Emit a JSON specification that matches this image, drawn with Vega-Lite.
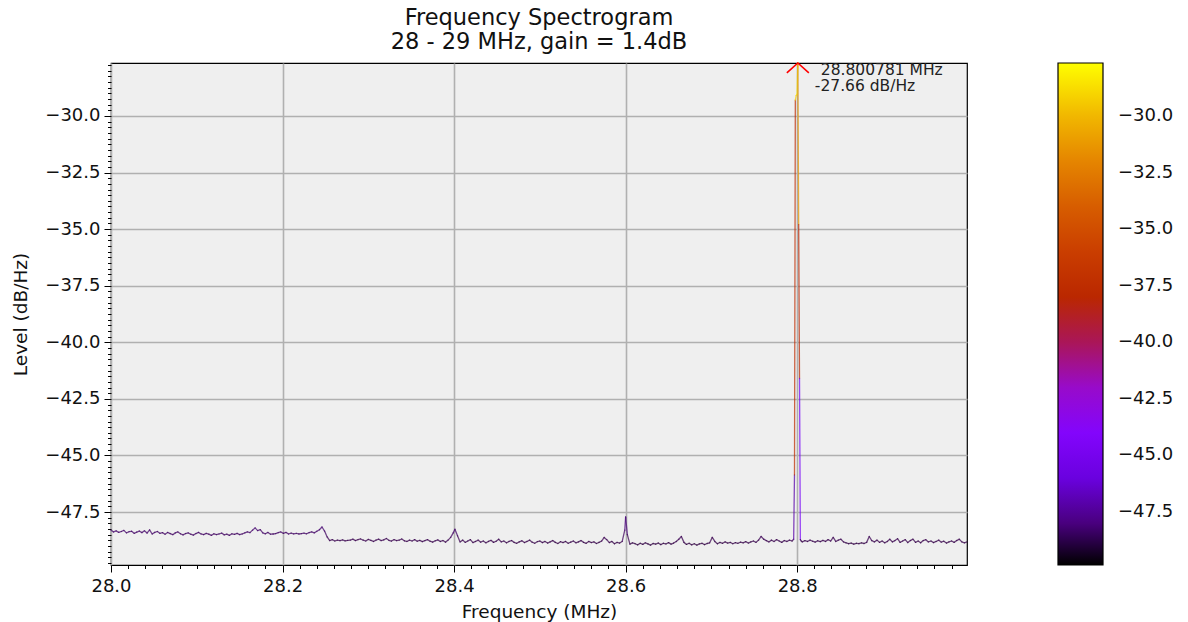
{
  "$schema": "https://vega.github.io/schema/vega-lite/v6.json",
  "width": 856,
  "height": 502,
  "autosize": {"type": "none"},
  "padding": {"left": 111, "top": 63, "right": 221, "bottom": 57},
  "background": "white",
  "config": {
    "font": "DejaVu Sans",
    "view": {"fill": "#efefef", "stroke": "black", "strokeWidth": 1.2},
    "axis": {"labelFont": "DejaVu Sans", "titleFont": "DejaVu Sans", "labelColor": "#111", "titleColor": "#111", "titleFontWeight": "normal"},
    "legend": {"labelFont": "DejaVu Sans"}
  },
  "title": {
    "text": ["Frequency Spectrogram", "28 - 29 MHz, gain = 1.4dB"],
    "fontSize": 22.5,
    "fontWeight": "normal",
    "font": "DejaVu Sans",
    "color": "#111",
    "lineHeight": 24,
    "anchor": "middle",
    "offset": 3
  },
  "data": {
    "values": [
      {"freq": 28.000, "level": -48.30}, {"freq": 28.003, "level": -48.38}, {"freq": 28.006, "level": -48.33}, {"freq": 28.009, "level": -48.40},
      {"freq": 28.012, "level": -48.36}, {"freq": 28.015, "level": -48.31}, {"freq": 28.018, "level": -48.42}, {"freq": 28.021, "level": -48.37},
      {"freq": 28.024, "level": -48.35}, {"freq": 28.027, "level": -48.44}, {"freq": 28.030, "level": -48.39}, {"freq": 28.033, "level": -48.34},
      {"freq": 28.036, "level": -48.41}, {"freq": 28.039, "level": -48.33}, {"freq": 28.042, "level": -48.43}, {"freq": 28.045, "level": -48.29},
      {"freq": 28.048, "level": -48.47}, {"freq": 28.051, "level": -48.40}, {"freq": 28.054, "level": -48.36}, {"freq": 28.057, "level": -48.44},
      {"freq": 28.060, "level": -48.41}, {"freq": 28.063, "level": -48.48}, {"freq": 28.066, "level": -48.40}, {"freq": 28.069, "level": -48.45},
      {"freq": 28.072, "level": -48.50}, {"freq": 28.075, "level": -48.42}, {"freq": 28.078, "level": -48.38}, {"freq": 28.081, "level": -48.46},
      {"freq": 28.084, "level": -48.51}, {"freq": 28.087, "level": -48.45}, {"freq": 28.090, "level": -48.42}, {"freq": 28.093, "level": -48.48},
      {"freq": 28.096, "level": -48.52}, {"freq": 28.099, "level": -48.45}, {"freq": 28.102, "level": -48.40}, {"freq": 28.105, "level": -48.47},
      {"freq": 28.108, "level": -48.50}, {"freq": 28.111, "level": -48.44}, {"freq": 28.114, "level": -48.48}, {"freq": 28.117, "level": -48.53},
      {"freq": 28.120, "level": -48.46}, {"freq": 28.123, "level": -48.50}, {"freq": 28.126, "level": -48.47}, {"freq": 28.129, "level": -48.43},
      {"freq": 28.132, "level": -48.51}, {"freq": 28.135, "level": -48.48}, {"freq": 28.138, "level": -48.53}, {"freq": 28.141, "level": -48.46},
      {"freq": 28.144, "level": -48.49}, {"freq": 28.147, "level": -48.44}, {"freq": 28.150, "level": -48.50}, {"freq": 28.153, "level": -48.47},
      {"freq": 28.156, "level": -48.42}, {"freq": 28.159, "level": -48.38}, {"freq": 28.162, "level": -48.41}, {"freq": 28.165, "level": -48.30},
      {"freq": 28.168, "level": -48.20}, {"freq": 28.171, "level": -48.32}, {"freq": 28.174, "level": -48.28}, {"freq": 28.177, "level": -48.42},
      {"freq": 28.180, "level": -48.46}, {"freq": 28.183, "level": -48.40}, {"freq": 28.186, "level": -48.48}, {"freq": 28.189, "level": -48.47},
      {"freq": 28.192, "level": -48.45}, {"freq": 28.195, "level": -48.41}, {"freq": 28.198, "level": -48.38}, {"freq": 28.201, "level": -48.44},
      {"freq": 28.204, "level": -48.40}, {"freq": 28.207, "level": -48.47}, {"freq": 28.210, "level": -48.43}, {"freq": 28.213, "level": -48.46},
      {"freq": 28.216, "level": -48.44}, {"freq": 28.219, "level": -48.47}, {"freq": 28.222, "level": -48.45}, {"freq": 28.225, "level": -48.43},
      {"freq": 28.228, "level": -48.46}, {"freq": 28.231, "level": -48.41}, {"freq": 28.234, "level": -48.38}, {"freq": 28.237, "level": -48.42},
      {"freq": 28.240, "level": -48.35}, {"freq": 28.243, "level": -48.28}, {"freq": 28.246, "level": -48.16}, {"freq": 28.249, "level": -48.34},
      {"freq": 28.252, "level": -48.60}, {"freq": 28.255, "level": -48.76}, {"freq": 28.258, "level": -48.72}, {"freq": 28.261, "level": -48.78},
      {"freq": 28.264, "level": -48.74}, {"freq": 28.267, "level": -48.76}, {"freq": 28.270, "level": -48.73}, {"freq": 28.273, "level": -48.77},
      {"freq": 28.276, "level": -48.75}, {"freq": 28.279, "level": -48.74}, {"freq": 28.282, "level": -48.70}, {"freq": 28.285, "level": -48.76},
      {"freq": 28.288, "level": -48.72}, {"freq": 28.291, "level": -48.69}, {"freq": 28.294, "level": -48.74}, {"freq": 28.297, "level": -48.78},
      {"freq": 28.300, "level": -48.71}, {"freq": 28.303, "level": -48.75}, {"freq": 28.306, "level": -48.80}, {"freq": 28.309, "level": -48.74},
      {"freq": 28.312, "level": -48.70}, {"freq": 28.315, "level": -48.76}, {"freq": 28.318, "level": -48.73}, {"freq": 28.321, "level": -48.67},
      {"freq": 28.324, "level": -48.75}, {"freq": 28.327, "level": -48.78}, {"freq": 28.330, "level": -48.72}, {"freq": 28.333, "level": -48.76},
      {"freq": 28.336, "level": -48.74}, {"freq": 28.339, "level": -48.69}, {"freq": 28.342, "level": -48.77}, {"freq": 28.345, "level": -48.80},
      {"freq": 28.348, "level": -48.74}, {"freq": 28.351, "level": -48.78}, {"freq": 28.354, "level": -48.72}, {"freq": 28.357, "level": -48.79},
      {"freq": 28.360, "level": -48.75}, {"freq": 28.363, "level": -48.81}, {"freq": 28.366, "level": -48.76}, {"freq": 28.369, "level": -48.72},
      {"freq": 28.372, "level": -48.79}, {"freq": 28.375, "level": -48.83}, {"freq": 28.378, "level": -48.77}, {"freq": 28.381, "level": -48.73},
      {"freq": 28.384, "level": -48.80}, {"freq": 28.387, "level": -48.76}, {"freq": 28.390, "level": -48.83}, {"freq": 28.393, "level": -48.74},
      {"freq": 28.396, "level": -48.62}, {"freq": 28.399, "level": -48.42}, {"freq": 28.401, "level": -48.26}, {"freq": 28.404, "level": -48.55},
      {"freq": 28.407, "level": -48.82}, {"freq": 28.410, "level": -48.74}, {"freq": 28.413, "level": -48.84}, {"freq": 28.416, "level": -48.78},
      {"freq": 28.419, "level": -48.72}, {"freq": 28.422, "level": -48.85}, {"freq": 28.425, "level": -48.80}, {"freq": 28.428, "level": -48.74},
      {"freq": 28.431, "level": -48.83}, {"freq": 28.434, "level": -48.78}, {"freq": 28.437, "level": -48.86}, {"freq": 28.440, "level": -48.80},
      {"freq": 28.443, "level": -48.75}, {"freq": 28.446, "level": -48.84}, {"freq": 28.449, "level": -48.79}, {"freq": 28.452, "level": -48.70},
      {"freq": 28.455, "level": -48.82}, {"freq": 28.458, "level": -48.78}, {"freq": 28.461, "level": -48.86}, {"freq": 28.464, "level": -48.80},
      {"freq": 28.467, "level": -48.76}, {"freq": 28.470, "level": -48.84}, {"freq": 28.473, "level": -48.88}, {"freq": 28.476, "level": -48.82},
      {"freq": 28.479, "level": -48.77}, {"freq": 28.482, "level": -48.85}, {"freq": 28.485, "level": -48.80}, {"freq": 28.488, "level": -48.74},
      {"freq": 28.491, "level": -48.83}, {"freq": 28.494, "level": -48.88}, {"freq": 28.497, "level": -48.81}, {"freq": 28.500, "level": -48.78},
      {"freq": 28.503, "level": -48.85}, {"freq": 28.506, "level": -48.80}, {"freq": 28.509, "level": -48.87}, {"freq": 28.512, "level": -48.82},
      {"freq": 28.515, "level": -48.76}, {"freq": 28.518, "level": -48.84}, {"freq": 28.521, "level": -48.89}, {"freq": 28.524, "level": -48.81},
      {"freq": 28.527, "level": -48.85}, {"freq": 28.530, "level": -48.80}, {"freq": 28.533, "level": -48.88}, {"freq": 28.536, "level": -48.83},
      {"freq": 28.539, "level": -48.78}, {"freq": 28.542, "level": -48.86}, {"freq": 28.545, "level": -48.82}, {"freq": 28.548, "level": -48.76},
      {"freq": 28.551, "level": -48.84}, {"freq": 28.554, "level": -48.88}, {"freq": 28.557, "level": -48.80}, {"freq": 28.560, "level": -48.85},
      {"freq": 28.563, "level": -48.82}, {"freq": 28.566, "level": -48.89}, {"freq": 28.569, "level": -48.84}, {"freq": 28.572, "level": -48.78},
      {"freq": 28.575, "level": -48.62}, {"freq": 28.578, "level": -48.72}, {"freq": 28.581, "level": -48.85}, {"freq": 28.584, "level": -48.80},
      {"freq": 28.587, "level": -48.90}, {"freq": 28.590, "level": -48.84}, {"freq": 28.593, "level": -48.87}, {"freq": 28.596, "level": -48.80},
      {"freq": 28.599, "level": -48.30}, {"freq": 28.600, "level": -47.72}, {"freq": 28.602, "level": -48.50}, {"freq": 28.605, "level": -48.92},
      {"freq": 28.608, "level": -48.86}, {"freq": 28.611, "level": -48.90}, {"freq": 28.614, "level": -48.95}, {"freq": 28.617, "level": -48.88},
      {"freq": 28.620, "level": -48.93}, {"freq": 28.623, "level": -48.86}, {"freq": 28.626, "level": -48.91}, {"freq": 28.629, "level": -48.96},
      {"freq": 28.632, "level": -48.89}, {"freq": 28.635, "level": -48.92}, {"freq": 28.638, "level": -48.87}, {"freq": 28.641, "level": -48.94},
      {"freq": 28.644, "level": -48.88}, {"freq": 28.647, "level": -48.91}, {"freq": 28.650, "level": -48.85}, {"freq": 28.653, "level": -48.92},
      {"freq": 28.656, "level": -48.87}, {"freq": 28.659, "level": -48.80}, {"freq": 28.662, "level": -48.70}, {"freq": 28.665, "level": -48.58},
      {"freq": 28.668, "level": -48.84}, {"freq": 28.671, "level": -48.93}, {"freq": 28.674, "level": -48.88}, {"freq": 28.677, "level": -48.95},
      {"freq": 28.680, "level": -48.90}, {"freq": 28.683, "level": -48.96}, {"freq": 28.686, "level": -48.91}, {"freq": 28.689, "level": -48.88},
      {"freq": 28.692, "level": -48.94}, {"freq": 28.695, "level": -48.89}, {"freq": 28.698, "level": -48.86}, {"freq": 28.701, "level": -48.62},
      {"freq": 28.704, "level": -48.80}, {"freq": 28.707, "level": -48.90}, {"freq": 28.710, "level": -48.84}, {"freq": 28.713, "level": -48.88},
      {"freq": 28.716, "level": -48.82}, {"freq": 28.719, "level": -48.87}, {"freq": 28.722, "level": -48.84}, {"freq": 28.725, "level": -48.90},
      {"freq": 28.728, "level": -48.85}, {"freq": 28.731, "level": -48.88}, {"freq": 28.734, "level": -48.83}, {"freq": 28.737, "level": -48.86},
      {"freq": 28.740, "level": -48.81}, {"freq": 28.743, "level": -48.87}, {"freq": 28.746, "level": -48.82}, {"freq": 28.749, "level": -48.78},
      {"freq": 28.752, "level": -48.84}, {"freq": 28.755, "level": -48.74}, {"freq": 28.758, "level": -48.58}, {"freq": 28.761, "level": -48.70},
      {"freq": 28.764, "level": -48.76}, {"freq": 28.767, "level": -48.82}, {"freq": 28.770, "level": -48.74}, {"freq": 28.773, "level": -48.80},
      {"freq": 28.776, "level": -48.72}, {"freq": 28.779, "level": -48.78}, {"freq": 28.782, "level": -48.84}, {"freq": 28.785, "level": -48.76},
      {"freq": 28.788, "level": -48.80}, {"freq": 28.791, "level": -48.74}, {"freq": 28.794, "level": -48.78},
      {"freq": 28.79590, "level": -48.70}, {"freq": 28.79688, "level": -45.86}, {"freq": 28.79785, "level": -29.30},
      {"freq": 28.79883, "level": -29.10}, {"freq": 28.79980, "level": -29.05}, {"freq": 28.800781, "level": -27.66},
      {"freq": 28.80176, "level": -34.80}, {"freq": 28.80273, "level": -41.60}, {"freq": 28.80371, "level": -48.72},
      {"freq": 28.80469, "level": -48.78},
      {"freq": 28.806, "level": -48.82}, {"freq": 28.809, "level": -48.76}, {"freq": 28.812, "level": -48.80}, {"freq": 28.815, "level": -48.74},
      {"freq": 28.818, "level": -48.79}, {"freq": 28.821, "level": -48.83}, {"freq": 28.824, "level": -48.77}, {"freq": 28.827, "level": -48.81},
      {"freq": 28.830, "level": -48.75}, {"freq": 28.833, "level": -48.80}, {"freq": 28.836, "level": -48.72}, {"freq": 28.839, "level": -48.78},
      {"freq": 28.842, "level": -48.62}, {"freq": 28.845, "level": -48.80}, {"freq": 28.848, "level": -48.74}, {"freq": 28.851, "level": -48.70},
      {"freq": 28.854, "level": -48.82}, {"freq": 28.857, "level": -48.86}, {"freq": 28.860, "level": -48.90}, {"freq": 28.863, "level": -48.87},
      {"freq": 28.866, "level": -48.92}, {"freq": 28.869, "level": -48.88}, {"freq": 28.872, "level": -48.90}, {"freq": 28.875, "level": -48.86},
      {"freq": 28.878, "level": -48.89}, {"freq": 28.881, "level": -48.84}, {"freq": 28.884, "level": -48.58}, {"freq": 28.887, "level": -48.76},
      {"freq": 28.890, "level": -48.82}, {"freq": 28.893, "level": -48.74}, {"freq": 28.896, "level": -48.84}, {"freq": 28.899, "level": -48.78},
      {"freq": 28.902, "level": -48.86}, {"freq": 28.905, "level": -48.80}, {"freq": 28.908, "level": -48.70}, {"freq": 28.911, "level": -48.82},
      {"freq": 28.914, "level": -48.76}, {"freq": 28.917, "level": -48.68}, {"freq": 28.920, "level": -48.84}, {"freq": 28.923, "level": -48.78},
      {"freq": 28.926, "level": -48.72}, {"freq": 28.929, "level": -48.85}, {"freq": 28.932, "level": -48.76}, {"freq": 28.935, "level": -48.70},
      {"freq": 28.938, "level": -48.84}, {"freq": 28.941, "level": -48.78}, {"freq": 28.944, "level": -48.86}, {"freq": 28.947, "level": -48.76},
      {"freq": 28.950, "level": -48.72}, {"freq": 28.953, "level": -48.82}, {"freq": 28.956, "level": -48.78}, {"freq": 28.959, "level": -48.85},
      {"freq": 28.962, "level": -48.80}, {"freq": 28.965, "level": -48.74}, {"freq": 28.968, "level": -48.83}, {"freq": 28.971, "level": -48.79},
      {"freq": 28.974, "level": -48.87}, {"freq": 28.977, "level": -48.82}, {"freq": 28.980, "level": -48.78}, {"freq": 28.983, "level": -48.84},
      {"freq": 28.986, "level": -48.76}, {"freq": 28.989, "level": -48.70}, {"freq": 28.992, "level": -48.82}, {"freq": 28.995, "level": -48.86},
      {"freq": 28.998, "level": -48.82}
    ]
  },
  "encoding": {
    "x": {
      "field": "freq",
      "type": "quantitative",
      "scale": {"domain": [28, 28.998], "nice": false, "zero": false},
      "axis": {
        "title": "Frequency (MHz)",
        "titleFontSize": 18.5,
        "titlePadding": 7,
        "labelFontSize": 18,
        "labelPadding": 5,
        "domain": false,
        "labelOverlap": false,
        "labelFlush": false,
        "values": [28, 28.02, 28.04, 28.06, 28.08, 28.1, 28.12, 28.14, 28.16, 28.18, 28.2, 28.22, 28.24, 28.26, 28.28, 28.3, 28.32, 28.34, 28.36, 28.38, 28.4, 28.42, 28.44, 28.46, 28.48, 28.5, 28.52, 28.54, 28.56, 28.58, 28.6, 28.62, 28.64, 28.66, 28.68, 28.7, 28.72, 28.74, 28.76, 28.78, 28.8, 28.82, 28.84, 28.86, 28.88, 28.9, 28.92, 28.94, 28.96, 28.98],
        "labelExpr": "abs((datum.value - 28) * 5 - round((datum.value - 28) * 5)) < 0.001 ? format(datum.value, '.1f') : ''",
        "tickColor": "black",
        "tickSize": {"condition": {"test": "abs((datum.value - 28) * 5 - round((datum.value - 28) * 5)) < 0.001", "value": 7}, "value": 3.5},
        "grid": true,
        "gridColor": "#b0b0b0",
        "gridWidth": 1.6,
        "gridOpacity": {"condition": {"test": "abs((datum.value - 28) * 5 - round((datum.value - 28) * 5)) < 0.001", "value": 1}, "value": 0}
      }
    },
    "y": {
      "field": "level",
      "type": "quantitative",
      "scale": {"domain": [-49.84, -27.66], "nice": false, "zero": false},
      "axis": {
        "title": "Level (dB/Hz)",
        "titleFontSize": 18.5,
        "titlePadding": 14,
        "labelFontSize": 18,
        "labelPadding": 4,
        "domain": false,
        "labelOverlap": false,
        "labelFlush": false,
        "values": [-49.75, -49.5, -49.25, -49, -48.75, -48.5, -48.25, -48, -47.75, -47.5, -47.25, -47, -46.75, -46.5, -46.25, -46, -45.75, -45.5, -45.25, -45, -44.75, -44.5, -44.25, -44, -43.75, -43.5, -43.25, -43, -42.75, -42.5, -42.25, -42, -41.75, -41.5, -41.25, -41, -40.75, -40.5, -40.25, -40, -39.75, -39.5, -39.25, -39, -38.75, -38.5, -38.25, -38, -37.75, -37.5, -37.25, -37, -36.75, -36.5, -36.25, -36, -35.75, -35.5, -35.25, -35, -34.75, -34.5, -34.25, -34, -33.75, -33.5, -33.25, -33, -32.75, -32.5, -32.25, -32, -31.75, -31.5, -31.25, -31, -30.75, -30.5, -30.25, -30, -29.75, -29.5, -29.25, -29, -28.75, -28.5, -28.25, -28, -27.75],
        "labelExpr": "abs(datum.value / 2.5 - round(datum.value / 2.5)) < 0.001 ? replace(format(datum.value, '.1f'), '-', '−') : ''",
        "tickColor": "black",
        "tickSize": {"condition": {"test": "abs(datum.value / 2.5 - round(datum.value / 2.5)) < 0.001", "value": 7}, "value": 3.5},
        "grid": true,
        "gridColor": "#b0b0b0",
        "gridWidth": 1.6,
        "gridOpacity": {"condition": {"test": "abs(datum.value / 2.5 - round(datum.value / 2.5)) < 0.001", "value": 1}, "value": 0}
      }
    }
  },
  "layer": [
    {
      "transform": [
        {"window": [{"op": "lead", "field": "freq", "as": "freq2"}, {"op": "lead", "field": "level", "as": "level2"}], "sort": [{"field": "freq", "order": "ascending"}]},
        {"filter": "datum.freq2 != null"},
        {"calculate": "(datum.level + datum.level2) / 2", "as": "mid"}
      ],
      "mark": {"type": "rule", "strokeWidth": 1.3, "strokeCap": "round"},
      "encoding": {
        "x2": {"field": "freq2"},
        "y2": {"field": "level2"},
        "color": {
          "field": "mid",
          "type": "quantitative",
          "scale": {
            "domain": [-49.84, -27.66],
            "nice": false,
            "zero": false,
            "interpolate": "rgb",
            "range": ["#000000", "#39004f", "#510096", "#6301ce", "#7202f3", "#8004ff", "#8c07f3", "#970bce", "#a11096", "#ab174f", "#b42000", "#bd2a00", "#c63700", "#ce4600", "#d55700", "#dd6c00", "#e48300", "#eb9d00", "#f2ba00", "#f9db00", "#ffff00"]
          },
          "legend": {
            "title": null,
            "orient": "none",
            "legendX": 947,
            "legendY": 0,
            "direction": "vertical",
            "gradientLength": 502,
            "gradientThickness": 45,
            "gradientStrokeColor": "black",
            "gradientStrokeWidth": 1.2,
            "labelFontSize": 18,
            "labelColor": "#111",
            "labelOffset": 15,
            "labelOverlap": false,
            "values": [-47.5, -45, -42.5, -40, -37.5, -35, -32.5, -30],
            "labelExpr": "replace(format(datum.value, '.1f'), '-', '−')"
          }
        },
        "strokeOpacity": {"value": 0.72}
      }
    },
    {
      "transform": [
        {"joinaggregate": [{"op": "max", "field": "level", "as": "peak"}]},
        {"filter": "datum.level == datum.peak"}
      ],
      "mark": {"type": "point", "shape": "M-1,0.9L0,0L1,0.9", "filled": false, "stroke": "red", "strokeWidth": 1.6, "size": 484, "opacity": 1}
    },
    {
      "transform": [
        {"joinaggregate": [{"op": "max", "field": "level", "as": "peak"}]},
        {"filter": "datum.level == datum.peak"},
        {"calculate": "format(datum.freq, '.6f') + ' MHz'", "as": "note1"}
      ],
      "mark": {"type": "text", "align": "left", "baseline": "middle", "dx": 23, "dy": 7, "fontSize": 15.5, "color": "#222", "font": "DejaVu Sans"},
      "encoding": {"text": {"field": "note1"}}
    },
    {
      "transform": [
        {"joinaggregate": [{"op": "max", "field": "level", "as": "peak"}]},
        {"filter": "datum.level == datum.peak"},
        {"calculate": "replace(format(datum.level, '.2f'), '−', '-') + ' dB/Hz'", "as": "note2"}
      ],
      "mark": {"type": "text", "align": "left", "baseline": "middle", "dx": 17, "dy": 23, "fontSize": 15.5, "color": "#222", "font": "DejaVu Sans"},
      "encoding": {"text": {"field": "note2"}}
    }
  ]
}
